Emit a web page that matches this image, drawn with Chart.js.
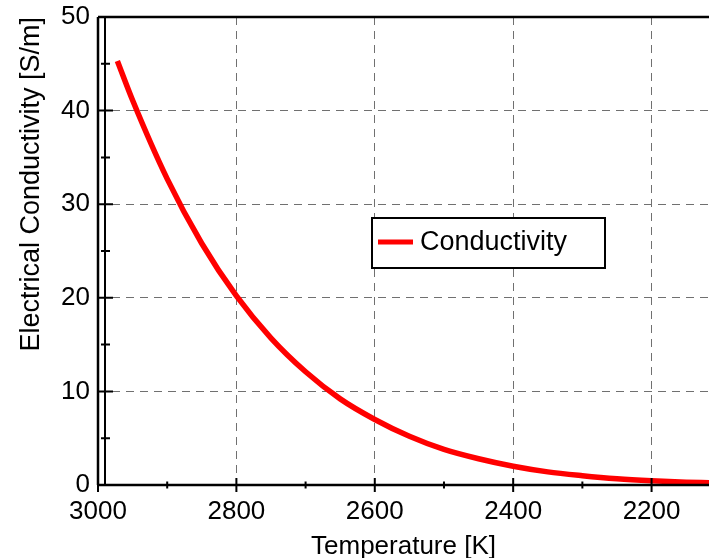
<!DOCTYPE html>
<html>
<head>
<meta charset="utf-8">
<script src="https://cdn.jsdelivr.net/npm/chart.js@4"></script>
<style>
    html, body { margin: 0; padding: 0; background: #fff; }
    #wrap { width: 709px; height: 558px; }
</style>
</head>
<body>
<div id="wrap"><canvas id="condChart"></canvas></div>
<script>
const temperature = [2972, 2950, 2900, 2850, 2800, 2750, 2700, 2650, 2600, 2550, 2500, 2450, 2400, 2350, 2300, 2250, 2200, 2150, 2117];
const conductivity = [45.3, 41.1, 32.7, 25.8, 20.2, 15.7, 12.1, 9.2, 7.0, 5.2, 3.8, 2.8, 2.0, 1.4, 1.0, 0.68, 0.46, 0.3, 0.24];
const xTicks = [3000, 2800, 2600, 2400, 2200];
const yTicks = [0, 10, 20, 30, 40, 50];

const FONT = "'Liberation Sans', Arial, sans-serif";

// axis frame with double left line and tick marks crossing the axes
const framePlugin = {
    id: 'frame',
    afterDraw(chart) {
        const ctx = chart.ctx;
        const a = chart.chartArea;
        const xs = chart.scales.x;
        const ys = chart.scales.y;
        ctx.save();
        ctx.strokeStyle = '#000';
        ctx.lineWidth = 2.5;
        ctx.beginPath();
        ctx.moveTo(a.left, a.top); ctx.lineTo(a.right, a.top);
        ctx.moveTo(a.left, a.bottom); ctx.lineTo(a.right, a.bottom);
        ctx.moveTo(a.left, a.top); ctx.lineTo(a.left, a.bottom);
        ctx.stroke();
        ctx.lineWidth = 2;
        ctx.beginPath();
        ctx.moveTo(a.left + 7, a.top); ctx.lineTo(a.left + 7, a.bottom);
        ctx.stroke();

        ctx.lineWidth = 2;
        ctx.beginPath();
        for (let v = 0; v <= 50; v += 5) {
            const y = ys.getPixelForValue(v);
            if (v % 10 === 0) { ctx.moveTo(a.left, y); ctx.lineTo(a.left + 15, y); }
            else { ctx.moveTo(a.left + 3, y); ctx.lineTo(a.left + 12, y); }
        }
        for (let t = 3000; t >= xs.min; t -= 100) {
            const x = xs.getPixelForValue(t);
            const h = t % 200 === 0 ? 7 : 3.5;
            ctx.moveTo(x, a.bottom - h); ctx.lineTo(x, a.bottom + h);
        }
        ctx.stroke();
        ctx.restore();
    }
};

// boxed legend inside the plot
const boxLegend = {
    id: 'boxLegend',
    afterDraw(chart) {
        const ctx = chart.ctx;
        const ds = chart.data.datasets[0];
        ctx.save();
        ctx.fillStyle = '#fff';
        ctx.fillRect(372, 218, 233, 50);
        ctx.strokeStyle = '#000';
        ctx.lineWidth = 2;
        ctx.strokeRect(372, 218, 233, 50);
        ctx.strokeStyle = ds.borderColor;
        ctx.lineWidth = 5;
        ctx.beginPath();
        ctx.moveTo(378, 242); ctx.lineTo(413, 242);
        ctx.stroke();
        ctx.fillStyle = '#000';
        ctx.font = '27px ' + FONT;
        ctx.textBaseline = 'middle';
        ctx.fillText(ds.label, 420, 243);
        ctx.restore();
    }
};

new Chart(document.getElementById('condChart'), {
    type: 'line',
    data: {
        datasets: [{
            label: 'Conductivity',
            data: temperature.map((t, i) => ({ x: t, y: conductivity[i] })),
            borderColor: '#ff0000',
            borderWidth: 5.5,
            pointRadius: 0,
            cubicInterpolationMode: 'monotone',
            fill: false
        }]
    },
    options: {
        responsive: true,
        maintainAspectRatio: false,
        animation: false,
        layout: { padding: { top: 17, right: 0, left: 0, bottom: 0 } },
        plugins: {
            legend: { display: false },
            tooltip: { enabled: false }
        },
        scales: {
            x: {
                type: 'linear',
                reverse: true,
                min: 2117,
                max: 3000,
                afterFit(scale) { scale.height = 73; },
                afterBuildTicks(scale) { scale.ticks = xTicks.map(v => ({ value: v })); },
                border: { display: false, dash: [8, 6] },
                grid: {
                    drawTicks: false,
                    color: ctx => (ctx.tick && ctx.tick.value !== 3000) ? '#707070' : 'rgba(0,0,0,0)',
                    lineWidth: 1
                },
                ticks: {
                    padding: 11,
                    color: '#000',
                    font: { family: FONT, size: 26 },
                    maxRotation: 0,
                    autoSkip: false,
                    callback: v => String(v)
                },
                title: {
                    display: true,
                    text: 'Temperature [K]',
                    color: '#000',
                    font: { family: FONT, size: 26 },
                    padding: { top: 0, bottom: -4 }
                }
            },
            y: {
                min: 0,
                max: 50,
                afterFit(scale) {
                    scale.width = 98;
                    scale.paddingTop = 0;
                    scale.paddingBottom = 0;
                },
                afterBuildTicks(scale) { scale.ticks = yTicks.map(v => ({ value: v })); },
                border: { display: false, dash: [8, 6] },
                grid: {
                    drawTicks: false,
                    color: ctx => (ctx.tick && ctx.tick.value > 0 && ctx.tick.value < 50) ? '#707070' : 'rgba(0,0,0,0)',
                    lineWidth: 1
                },
                ticks: {
                    padding: 8,
                    color: '#000',
                    font: { family: FONT, size: 26, lineHeight: 1 },
                    callback: v => String(v)
                },
                title: {
                    display: true,
                    align: 'end',
                    text: 'Electrical Conductivity [S/m]',
                    color: '#000',
                    font: { family: FONT, size: 27 },
                    padding: { top: 15, bottom: 0 }
                }
            }
        }
    },
    plugins: [framePlugin, boxLegend]
});
</script>
</body>
</html>
